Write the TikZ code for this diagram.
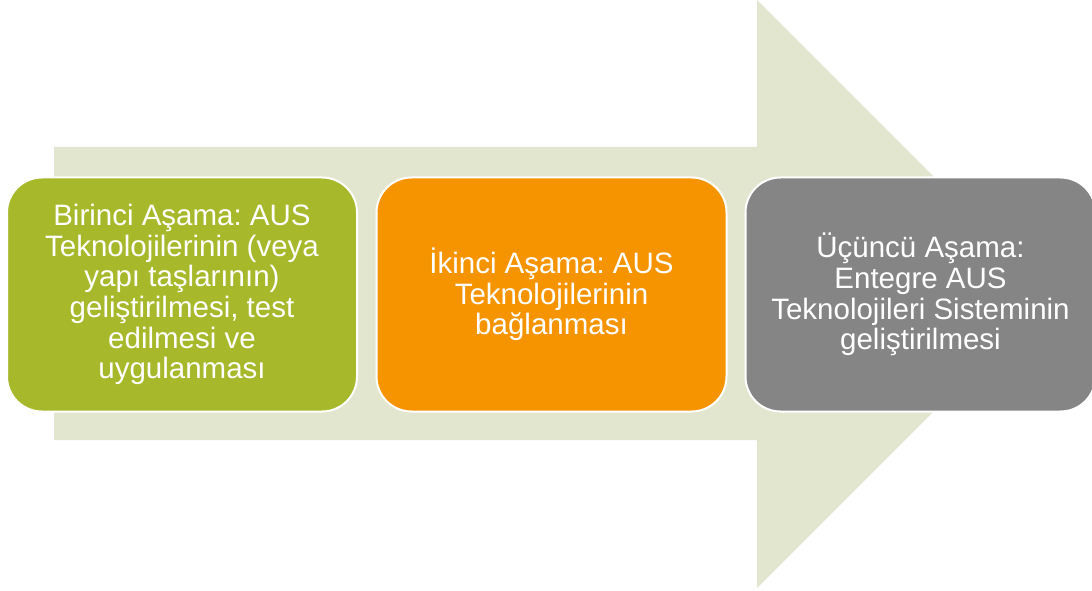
\documentclass[tikz,border=0pt]{standalone}
\usepackage{fontspec}
\setmainfont{Liberation Sans}
\frenchspacing
\definecolor{arrowbg}{HTML}{E2E6CF}
\definecolor{stagegreen}{HTML}{A7B92B}
\definecolor{stageorange}{HTML}{F69400}
\definecolor{stagegray}{HTML}{858585}
\tikzset{
  stagebox/.style={rounded corners=35pt, minimum width=350pt, minimum height=234pt,
    draw=white, line width=2pt, text=white, align=center, inner sep=0pt,
    font=\fontsize{29.5pt}{30.7pt}\selectfont}
}
\begin{document}
\begin{tikzpicture}[x=1pt,y=1pt]
\useasboundingbox (0,0) rectangle (1092,590);
\clip (0,0) rectangle (1092,590);
\fill[arrowbg] (54,443) -- (757,443) -- (757,590) -- (1051,296) -- (757,2) -- (757,150) -- (54,150) -- cycle;
\node[stagebox, fill=stagegreen] (s1) at (182,295.5) {Birinci Aşama: AUS\\Teknolojilerinin (veya\\yapı taşlarının)\\geliştirilmesi, test\\edilmesi ve\\uygulanması};
\node[stagebox, fill=stageorange] (s2) at (551.5,295.5) {İkinci Aşama: AUS\\Teknolojilerinin\\bağlanması};
\node[stagebox, fill=stagegray] (s3) at (920.5,295.5) {Üçüncü Aşama:\\Entegre AUS\\Teknolojileri Sisteminin\\geliştirilmesi};
\end{tikzpicture}
\end{document}
